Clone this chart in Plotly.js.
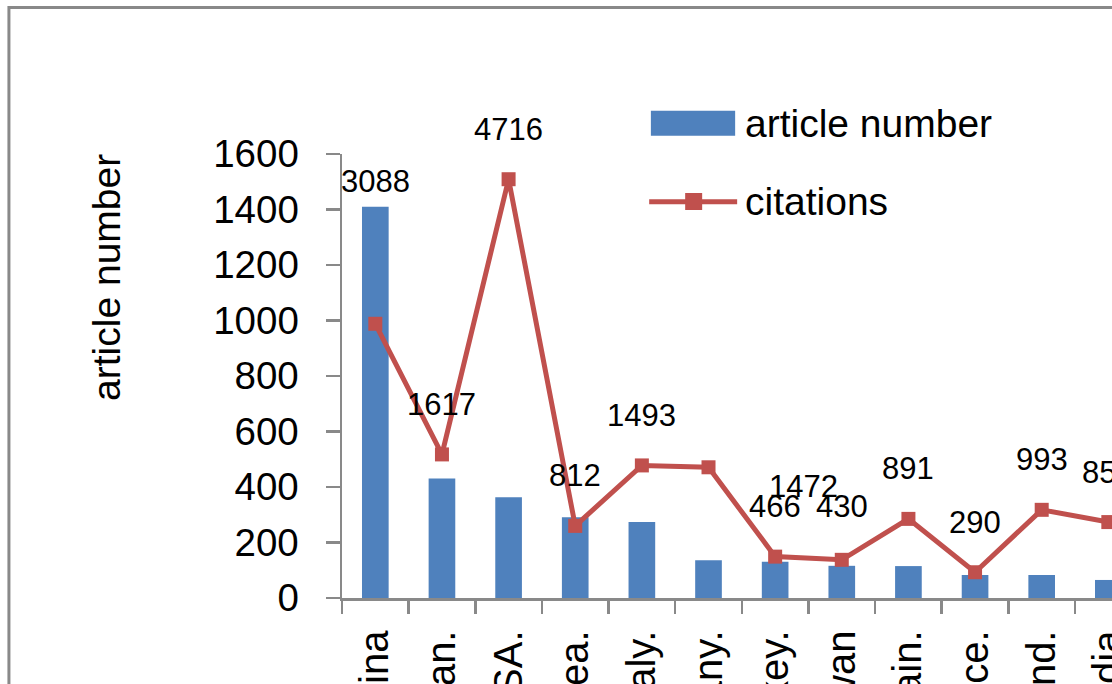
<!DOCTYPE html>
<html><head><meta charset="utf-8">
<script src="https://cdn.plot.ly/plotly-3.0.1.min.js"></script>
<style>html,body{margin:0;padding:0;background:#fff;overflow:hidden}#chart{width:1112px;height:684px}</style>
</head><body><div id="chart"></div>
<script>
// ---- data ----
const countries = ["China", "Japan.", "USA.", "Korea.", "Italy.", "Germany.", "Turkey.", "Taiwan", "Spain.", "France.", "England.", "India"];
const articleNumber = [1410, 431, 363, 291, 274, 136, 131, 116, 115, 83, 83, 65];
const citations = [3088, 1617, 4716, 812, 1493, 1472, 466, 430, 891, 290, 993, 855];
const yTickValues = [0, 200, 400, 600, 800, 1000, 1200, 1400, 1600];
const seriesNames = ["article number", "citations"];
const yTitle = "article number";

// ---- layout helpers (pixel geometry of the reference) ----
const FIG_W = 1112, FIG_H = 684;
const M = {l: 341.7, r: 0, t: 154, b: 86};
const PW = FIG_W - M.l - M.r, PH = FIG_H - M.t - M.b;
const px = x => (x - M.l) / PW;
const py = y => (M.t + PH - y) / PH;
const FONT = "Liberation Sans, Arial, sans-serif";
const BAR_COLOR = "#4F81BD", LINE_COLOR = "#C0504D", AXIS_COLOR = "#898989";

// label offsets (pixels) for the citation labels
const defaultShift = {x: 0, y: 50};
const specialShift = {"China": {x: 0, y: 142}, "Germany.": {x: 95, y: -19}, "Taiwan": {x: 0, y: 53}};

const labelAnnotations = countries.map((c, i) => {
  const s = specialShift[c] || defaultShift;
  return {
    x: c, y: citations[i], xref: "x", yref: "y2", text: String(citations[i]),
    showarrow: false, xshift: s.x, yshift: s.y,
    font: {family: FONT, size: 31, color: "#000"}
  };
});

const traces = [
  {
    type: "bar", name: seriesNames[0], x: countries, y: articleNumber,
    marker: {color: BAR_COLOR}, hoverinfo: "skip", showlegend: false
  },
  {
    type: "scatter", mode: "lines+markers", name: seriesNames[1], x: countries, y: citations,
    yaxis: "y2", line: {color: LINE_COLOR, width: 5},
    marker: {symbol: "square", size: 14, color: LINE_COLOR},
    hoverinfo: "skip", showlegend: false, cliponaxis: true
  }
];

const shapes = [
  // chart-area border (only its top and left edges fall in the window)
  {type: "rect", xref: "paper", yref: "paper", x0: px(8.5), x1: px(1400), y0: py(1000), y1: py(7.5),
   line: {color: AXIS_COLOR, width: 3}, fillcolor: "rgba(0,0,0,0)", layer: "above"},
  // legend: bar swatch
  {type: "rect", xref: "paper", yref: "paper", x0: px(650.7), x1: px(735), y0: py(135.7), y1: py(110.7),
   line: {width: 0}, fillcolor: BAR_COLOR},
  // legend: line swatch
  {type: "line", xref: "paper", yref: "paper", x0: px(649), x1: px(737), y0: py(201.7), y1: py(201.7),
   line: {color: LINE_COLOR, width: 5}},
  {type: "rect", xref: "paper", yref: "paper", x0: px(685), x1: px(702), y0: py(210), y1: py(193),
   line: {width: 0}, fillcolor: LINE_COLOR}
];

const annotations = labelAnnotations.concat([
  {xref: "paper", yref: "paper", x: px(106), y: py(277.5), text: yTitle, textangle: -90,
   showarrow: false, xanchor: "center", yanchor: "middle", font: {family: FONT, size: 39, color: "#000"}},
  {xref: "paper", yref: "paper", x: px(743), y: py(123.5), text: seriesNames[0],
   showarrow: false, xanchor: "left", yanchor: "middle", font: {family: FONT, size: 39, color: "#000"}},
  {xref: "paper", yref: "paper", x: px(743), y: py(201), text: seriesNames[1],
   showarrow: false, xanchor: "left", yanchor: "middle", font: {family: FONT, size: 39, color: "#000"}}
]);

const layout = {
  width: FIG_W, height: FIG_H,
  margin: M,
  paper_bgcolor: "#fff", plot_bgcolor: "rgba(0,0,0,0)",
  font: {family: FONT, color: "#000"},
  showlegend: false,
  bargap: 0.6,
  xaxis: {
    type: "category", range: [-0.5, (FIG_W - M.l) / (PW / 11.555) - 0.5],
    tickangle: -90, ticks: "outside", tickson: "boundaries", ticklen: 13, tickwidth: 2.5,
    tickcolor: AXIS_COLOR, showline: true, linecolor: AXIS_COLOR, linewidth: 2.5,
    showgrid: false, zeroline: false, tickfont: {family: FONT, size: 40, color: "#000"},
    ticklabelstandoff: 14, automargin: false, fixedrange: true
  },
  yaxis: {
    range: [0, 1600], tickvals: yTickValues, ticks: "outside", ticklen: 14, tickwidth: 2.5,
    tickcolor: AXIS_COLOR, showline: true, linecolor: AXIS_COLOR, linewidth: 2.5,
    showgrid: false, zeroline: false, tickfont: {family: FONT, size: 38.5, color: "#000"},
    ticklabelstandoff: 19, automargin: false, fixedrange: true
  },
  yaxis2: {overlaying: "y", side: "right", range: [0, 5000], visible: false, fixedrange: true},
  shapes: shapes,
  annotations: annotations
};

Plotly.newPlot("chart", traces, layout, {displayModeBar: false, staticPlot: true});
</script>
</body></html>
